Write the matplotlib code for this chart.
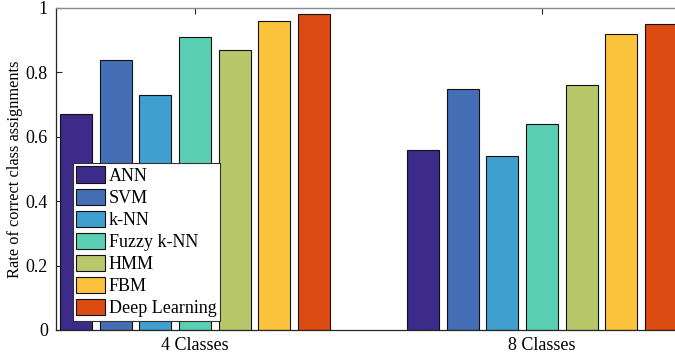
import matplotlib
matplotlib.use("Agg")
import matplotlib.pyplot as plt
import numpy as np

plt.rcParams['font.family'] = ['Liberation Serif', 'DejaVu Serif']
plt.rcParams['font.size'] = 13

groups = ["4 Classes", "8 Classes"]
methods = ["ANN", "SVM", "k-NN", "Fuzzy k-NN", "HMM", "FBM", "Deep Learning"]
ann = [0.67, 0.56]
svm = [0.84, 0.75]
knn = [0.73, 0.54]
fuzzy_knn = [0.91, 0.64]
hmm = [0.87, 0.76]
fbm = [0.96, 0.92]
deep = [0.98, 0.95]
series = [ann, svm, knn, fuzzy_knn, hmm, fbm, deep]
colors = ["#3d2b8a", "#456fb5", "#3f9fcf", "#5bcfb3", "#b8c76a", "#fbc23b", "#db4b12"]
yticks = [0, 0.2, 0.4, 0.6, 0.8, 1]
yticklabels = ["0", "0.2", "0.4", "0.6", "0.8", "1"]

fig = plt.figure(figsize=(6.75, 3.61), dpi=100)
ax = fig.add_axes([56.2 / 675, 31 / 361, 624.6 / 675, 322 / 361])

x = np.arange(1, len(groups) + 1)
step = 0.114
width = 0.092
for i, (vals, c, name) in enumerate(zip(series, colors, methods)):
    ax.bar(x + (i - 3) * step, vals, width=width, color=c, edgecolor='#111111',
           linewidth=0.8, label=name)

ax.set_xlim(0.6, 2.4)
ax.set_ylim(0, 1)
ax.set_xticks(x)
ax.set_xticklabels(groups)
ax.set_yticks(yticks)
ax.set_yticklabels(yticklabels)
ax.set_axisbelow(True)
ax.tick_params(axis='both', direction='in', length=4.5, width=0.8, color='#262626',
               top=True, right=False, labelsize=13, pad=6)
ax.tick_params(axis='x', pad=5)
ax.set_ylabel("Rate of correct class assignments", fontsize=11.8, labelpad=2)

for s in ['left', 'bottom']:
    ax.spines[s].set_color('#262626')
    ax.spines[s].set_linewidth(0.9)
ax.spines['top'].set_color('#8a8a8a')
ax.spines['top'].set_linewidth(1.0)
ax.spines['right'].set_visible(False)

leg = ax.legend(loc='lower left', bbox_to_anchor=(0.0264, 0.029), borderaxespad=0,
                fontsize=13, handlelength=1.6, handleheight=1.0, handletextpad=0.2,
                labelspacing=0.21, borderpad=0.2, fancybox=False, framealpha=1)
leg.get_frame().set_edgecolor('#333333')
leg.get_frame().set_linewidth(0.8)

fig.savefig("out.png", dpi=100)
